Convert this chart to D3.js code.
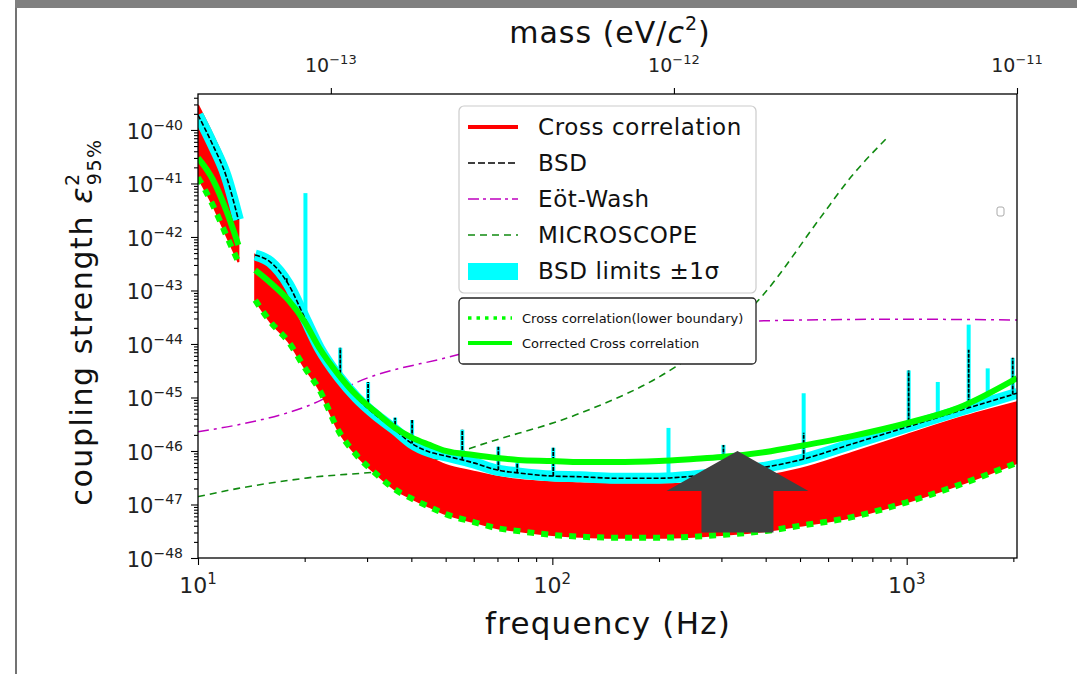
<!DOCTYPE html>
<meta charset="utf-8">
<style>
body { margin: 0; background: #fff; }
svg { display: block; font-family: "DejaVu Sans", sans-serif; }
</style>
<body>
<svg id="chart" width="1077" height="674"></svg>

<script src="https://d3js.org/d3.v7.min.js"></script>
<script>
// frequency grid (Hz) for the main curves; null values mark the data gap near 13.8 Hz
var freqs     = [10, 11, 12, 13, 13.8, 14.5, 16, 18, 20, 22, 25, 28, 32, 36, 40, 45, 50, 60, 70, 80,
                 100, 120, 150, 200, 250, 300, 400, 500, 700, 1000, 1400, 2048];
var crossHi   = [2.9e-40, 8.1e-41, 2.2e-41, 4.0e-42, null, 4.6e-43, 3.0e-43, 1.3e-43, 4.3e-44, 9.6e-45,
                 2.3e-45, 9.0e-46, 3.8e-46, 1.9e-46, 1.1e-46, 7.4e-47, 5.5e-47, 4.1e-47, 3.3e-47, 2.9e-47,
                 2.6e-47, 2.5e-47, 2.4e-47, 2.4e-47, 2.5e-47, 2.75e-47, 3.4e-47, 4.6e-47, 9.2e-47, 2.0e-46,
                 4.1e-46, 8.2e-46];
var crossLo   = [1.3e-41, 4.0e-42, 1.1e-42, 3.4e-43, null, 6.6e-44, 2.6e-44, 1.1e-44, 3.6e-45, 1.4e-45,
                 2.3e-46, 8.4e-47, 3.6e-47, 1.9e-47, 1.3e-47, 9.0e-48, 6.6e-48, 4.7e-48, 3.6e-48, 3.2e-48,
                 2.7e-48, 2.5e-48, 2.4e-48, 2.4e-48, 2.5e-48, 2.7e-48, 3.2e-48, 4.0e-48, 5.8e-48, 1.1e-47,
                 2.3e-47, 6.0e-47];
var bsd       = [1.9e-40, 5.3e-41, 1.4e-41, 2.1e-42, null, 4.6e-43, 3.4e-43, 1.3e-43, 3.1e-44, 8.4e-45,
                 2.4e-45, 1.0e-45, 4.5e-46, 2.5e-46, 1.4e-46, 9.6e-47, 8.1e-47, 6.0e-47, 4.4e-47, 3.9e-47,
                 3.4e-47, 3.3e-47, 3.1e-47, 3.1e-47, 3.4e-47, 3.9e-47, 5.0e-47, 6.8e-47, 1.35e-46, 2.8e-46,
                 5.6e-46, 1.2e-45];
var corrected = [3.0e-41, 1.2e-41, 3.2e-42, 7.1e-43, null, 2.4e-43, 1.4e-43, 6.6e-44, 2.6e-44, 8.4e-45,
                 2.6e-45, 1.1e-45, 5.1e-46, 2.7e-46, 1.8e-46, 1.3e-46, 1.0e-46, 8.4e-47, 7.4e-47, 6.8e-47,
                 6.5e-47, 6.2e-47, 6.2e-47, 6.5e-47, 7.1e-47, 7.7e-47, 9.6e-47, 1.24e-46, 1.9e-46, 3.3e-46,
                 6.4e-46, 2.3e-45];

// lines spikes in the BSD limits (cyan = ±1 sigma band, black = BSD itself)
var spikeFreq  = [17.8, 20.1, 25.2, 30.2, 36, 40.2, 55.7, 70.4, 79.6, 100.6, 212.7, 304, 512, 1013, 1224, 1496, 1693, 1992];
var spikeCyan  = [1.7e-43, 6.6e-42, 8.5e-45, 1.95e-45, 4.2e-46, 3.8e-46, 2.5e-46, 1.2e-46, 6.0e-47, 1.15e-46,
                  2.7e-46, 1.3e-46, 1.2e-45, 3.2e-45, 1.95e-45, 2.3e-44, 3.5e-45, 5.5e-45];
var spikeBlack = [1.7e-43, null, 8.5e-45, 1.95e-45, 4.2e-46, 3.8e-46, 2.5e-46, 1.2e-46, 6.0e-47, 1.15e-46,
                  null, 1.3e-46, 2.2e-46, 3.2e-45, null, 7.8e-45, null, 5.5e-45];

var eotFreq   = [10, 13, 20, 30, 50, 70, 100, 150, 250, 500, 1000, 2048];
var eotVal    = [2.3e-46, 3.1e-46, 6.6e-46, 2.3e-45, 5.5e-45, 9.6e-45, 1.4e-44, 1.9e-44, 2.4e-44, 2.8e-44, 2.9e-44, 2.8e-44];

var microFreq = [10, 13, 20, 39, 67, 120, 222, 389, 571, 695, 880];
var microVal  = [1.4e-47, 2.0e-47, 3.1e-47, 5.0e-47, 1.5e-46, 5.1e-46, 3.7e-45, 7.6e-44, 2.3e-42, 1.3e-41, 7.1e-41];

var yTickExp    = [-48, -47, -46, -45, -44, -43, -42, -41, -40];
var xTickExp    = [1, 2, 3];
var massTickExp = [-13, -12, -11];

var legendLabels  = ["Cross correlation", "BSD", "Eöt-Wash", "MICROSCOPE", "BSD limits ±1σ"];
var legend2Labels = ["Cross correlation(lower boundary)", "Corrected Cross correlation"];

// annotation arrow (frequency, tip value, tail value)
var arrowFreq = 333, arrowTip = 1.0e-46, arrowTail = 3.0e-48;

var W = 1077, H = 674;
var plot = {left: 198, right: 1017, top: 94, bottom: 558};

var x = d3.scaleLog().domain([10, 2048]).range([plot.left, plot.right]);
var xMass = d3.scaleLog().domain([4.1e-14, 1e-11]).range([plot.left, plot.right]);
var y = d3.scaleLog().domain([1e-48, 4.7e-40]).range([plot.bottom, plot.top]);

var svg = d3.select("#chart");

// page frame
svg.append("rect").attr("x", 15).attr("y", 0).attr("width", W - 15).attr("height", 8).attr("fill", "#808080");
svg.append("line").attr("x1", 16).attr("x2", 16).attr("y1", 8).attr("y2", H)
    .attr("stroke", "#444").attr("stroke-width", 1.5);

svg.append("clipPath").attr("id", "clip").append("rect")
    .attr("x", plot.left).attr("y", plot.top)
    .attr("width", plot.right - plot.left).attr("height", plot.bottom - plot.top);

var g = svg.append("g").attr("clip-path", "url(#clip)");

function series(fs, vs) {
  return fs.map(function(f, i) { return {f: f, v: vs[i]}; });
}

var line = d3.line()
    .defined(function(d) { return d.v != null; })
    .x(function(d) { return x(d.f); })
    .y(function(d) { return y(d.v); })
    .curve(d3.curveMonotoneX);

// BSD value at any frequency, log-log between the grid points
function bsdAt(f) {
  var pts = series(freqs, bsd).filter(function(d) { return d.v != null; });
  for (var i = 0; i < pts.length - 1; i++) {
    if (f >= pts[i].f && f <= pts[i + 1].f) {
      var t = (Math.log(f) - Math.log(pts[i].f)) / (Math.log(pts[i + 1].f) - Math.log(pts[i].f));
      return Math.exp(Math.log(pts[i].v) + t * (Math.log(pts[i + 1].v) - Math.log(pts[i].v)));
    }
  }
  return pts[pts.length - 1].v;
}

// other experiments (behind the band)
g.append("path").attr("d", line(series(eotFreq, eotVal)))
    .attr("fill", "none").attr("stroke", "#bf00bf").attr("stroke-width", 1.5)
    .attr("stroke-dasharray", "11,5,3,5");
g.append("path").attr("d", line(series(microFreq, microVal)))
    .attr("fill", "none").attr("stroke", "#108a10").attr("stroke-width", 1.6)
    .attr("stroke-dasharray", "7,5");

// cross correlation band
var band = freqs.map(function(f, i) { return {f: f, hi: crossHi[i], lo: crossLo[i]}; });
g.append("path")
    .attr("d", d3.area()
      .defined(function(d) { return d.hi != null; })
      .x(function(d) { return x(d.f); })
      .y0(function(d) { return y(d.lo); })
      .y1(function(d) { return y(d.hi); })
      .curve(d3.curveMonotoneX)(band))
    .attr("fill", "#ff0000").attr("stroke", "#ff0000").attr("stroke-width", 2);

// BSD +-1 sigma band and BSD limit
g.append("path").attr("d", line(series(freqs, bsd)))
    .attr("fill", "none").attr("stroke", "#00ffff").attr("stroke-width", 11)
    .attr("stroke-linejoin", "round");
g.selectAll(".spikeC").data(spikeFreq).enter().append("line")
    .attr("x1", function(f) { return x(f); }).attr("x2", function(f) { return x(f); })
    .attr("y1", function(f) { return y(bsdAt(f)); })
    .attr("y2", function(f, i) { return y(spikeCyan[i]); })
    .attr("stroke", "#00ffff").attr("stroke-width", 4);
g.append("path").attr("d", line(series(freqs, bsd)))
    .attr("fill", "none").attr("stroke", "#000").attr("stroke-width", 1.6)
    .attr("stroke-dasharray", "5,2");
g.selectAll(".spikeB").data(spikeFreq.filter(function(f, i) { return spikeBlack[i] != null; }))
  .enter().append("line")
    .attr("x1", function(f) { return x(f); }).attr("x2", function(f) { return x(f); })
    .attr("y1", function(f) { return y(bsdAt(f)); })
    .attr("y2", function(f) { return y(spikeBlack[spikeFreq.indexOf(f)]); })
    .attr("stroke", "#000").attr("stroke-width", 1.8).attr("stroke-dasharray", "4,1");

// cross correlation lower boundary and corrected curve
g.append("path").attr("d", line(series(freqs, crossLo)))
    .attr("fill", "none").attr("stroke", "#00ff00").attr("stroke-width", 6)
    .attr("stroke-dasharray", "7,7");
g.append("path").attr("d", line(series(freqs, corrected)))
    .attr("fill", "none").attr("stroke", "#00ff00").attr("stroke-width", 6)
    .attr("stroke-linejoin", "round");

// axes frame
svg.append("rect")
    .attr("x", plot.left).attr("y", plot.top)
    .attr("width", plot.right - plot.left).attr("height", plot.bottom - plot.top)
    .attr("fill", "none").attr("stroke", "#000").attr("stroke-width", 1.3);

var yMajor = yTickExp.map(function(e) { return Math.pow(10, e); });
var yMinor = [];
yTickExp.forEach(function(e) {
  for (var k = 2; k <= 9; k++) {
    var v = k * Math.pow(10, e);
    if (v < y.domain()[1]) yMinor.push(v);
  }
});
var xMinor = [];
[1, 2, 3].forEach(function(e) {
  for (var k = 2; k <= 9; k++) {
    var v = k * Math.pow(10, e);
    if (v < x.domain()[1]) xMinor.push(v);
  }
});

function tickAxis(axis, tx, ty) {
  var a = svg.append("g").attr("transform", "translate(" + tx + "," + ty + ")").call(axis);
  a.select(".domain").remove();
  a.selectAll("line").attr("stroke", "#000").attr("stroke-width", 1.1);
  return a;
}
tickAxis(d3.axisLeft(y).tickValues(yMajor).tickSize(7).tickFormat(""), plot.left, 0);
tickAxis(d3.axisLeft(y).tickValues(yMinor).tickSize(4).tickFormat(""), plot.left, 0);
tickAxis(d3.axisBottom(x).tickValues(xTickExp.map(function(e) { return Math.pow(10, e); })).tickSize(7).tickFormat(""), 0, plot.bottom);
tickAxis(d3.axisBottom(x).tickValues(xMinor).tickSize(4).tickFormat(""), 0, plot.bottom);
tickAxis(d3.axisTop(xMass).tickValues(massTickExp.map(function(e) { return Math.pow(10, e); })).tickSize(6).tickFormat(""), 0, plot.top);

// power-of-ten labels
function powLabel(sel, exp, base, sup, supDy) {
  sel.append("tspan").attr("font-size", base).text("10");
  sel.append("tspan").attr("font-size", sup).attr("dy", supDy)
    .text(exp < 0 ? "\u2212" + (-exp) : String(exp));
}
yTickExp.forEach(function(e) {
  var t = svg.append("text").attr("x", plot.left - 15).attr("y", y(Math.pow(10, e)) + 9)
      .attr("text-anchor", "end").attr("fill", "#222");
  powLabel(t, e, 21, 14, -9);
});
xTickExp.forEach(function(e) {
  var t = svg.append("text").attr("x", x(Math.pow(10, e))).attr("y", 593)
      .attr("text-anchor", "middle").attr("fill", "#222");
  powLabel(t, e, 22, 15, -9);
});
massTickExp.forEach(function(e) {
  var t = svg.append("text").attr("x", xMass(Math.pow(10, e))).attr("y", 72)
      .attr("text-anchor", "middle").attr("fill", "#222");
  powLabel(t, e, 19, 13, -8);
});

// axis titles
svg.append("text").attr("x", 608).attr("y", 634).attr("text-anchor", "middle")
    .attr("font-size", 31).attr("letter-spacing", 1.2).attr("fill", "#111")
    .text("frequency (Hz)");

var mt = svg.append("text").attr("x", 610).attr("y", 43).attr("text-anchor", "middle")
    .attr("font-size", 30).attr("letter-spacing", 1).attr("fill", "#111");
mt.append("tspan").text("mass (eV/");
mt.append("tspan").attr("font-style", "italic").text("c");
mt.append("tspan").attr("font-size", 19).attr("dy", -13).text("2");
mt.append("tspan").attr("dy", 13).text(")");

var yt = svg.append("text").attr("transform", "translate(92,322) rotate(-90)")
    .attr("text-anchor", "middle").attr("font-size", 30).attr("letter-spacing", 1.6).attr("fill", "#111");
yt.append("tspan").text("coupling strength ");
yt.append("tspan").attr("font-style", "italic").text("\u03b5");
yt.append("tspan").attr("font-size", 19).attr("dy", -13).text("2");
yt.append("tspan").attr("font-size", 19).attr("dx", -13).attr("dy", 22).text("95%");

// legend 1
var lg = svg.append("g");
lg.append("rect").attr("x", 459).attr("y", 106).attr("width", 297).attr("height", 187).attr("rx", 5)
    .attr("fill", "#fff").attr("fill-opacity", 0.85).attr("stroke", "#cccccc").attr("stroke-width", 1.2);
var rowY = d3.scalePoint().domain(legendLabels).range([127, 271]);
var handles = [
  {stroke: "#ff0000", width: 4, dash: null},
  {stroke: "#000", width: 1.6, dash: "7,3"},
  {stroke: "#bf00bf", width: 1.6, dash: "11,4,3,4"},
  {stroke: "#108a10", width: 1.6, dash: "7,5"},
  null
];
legendLabels.forEach(function(lbl, i) {
  var yy = rowY(lbl);
  if (handles[i]) {
    lg.append("line").attr("x1", 468).attr("x2", 518).attr("y1", yy).attr("y2", yy)
      .attr("stroke", handles[i].stroke).attr("stroke-width", handles[i].width)
      .attr("stroke-dasharray", handles[i].dash);
  } else {
    lg.append("rect").attr("x", 468).attr("y", yy - 8).attr("width", 50).attr("height", 17).attr("fill", "#00ffff");
  }
  lg.append("text").attr("x", 538).attr("y", yy).attr("dy", "0.36em")
    .attr("font-size", 23).attr("letter-spacing", 0.6).attr("fill", "#111").text(lbl);
});

// legend 2
var lg2 = svg.append("g");
lg2.append("rect").attr("x", 459).attr("y", 298).attr("width", 297).attr("height", 66).attr("rx", 4)
    .attr("fill", "#fff").attr("stroke", "#222").attr("stroke-width", 1.3);
var row2Y = d3.scalePoint().domain(legend2Labels).range([318, 343]);
legend2Labels.forEach(function(lbl, i) {
  var yy = row2Y(lbl);
  lg2.append("line").attr("x1", 468).attr("x2", 512).attr("y1", yy).attr("y2", yy)
    .attr("stroke", "#00ff00").attr("stroke-width", i ? 4 : 3.5)
    .attr("stroke-dasharray", i ? null : "3.5,5");
  lg2.append("text").attr("x", 522).attr("y", yy).attr("dy", "0.36em")
    .attr("font-size", 13).attr("fill", "#111").text(lbl);
});

// small stray glyph at the right
svg.append("rect").attr("x", 997).attr("y", 207).attr("width", 7).attr("height", 9).attr("rx", 2)
    .attr("fill", "none").attr("stroke", "#aaa").attr("stroke-width", 1);

// arrow annotation
var ax = x(arrowFreq), aTip = y(arrowTip), aTail = y(arrowTail);
var headHalf = 71, shaftHalf = 36, headLen = 40;
svg.append("path")
    .attr("d", d3.line()([
      [ax, aTip], [ax + headHalf, aTip + headLen], [ax + shaftHalf, aTip + headLen],
      [ax + shaftHalf, aTail], [ax - shaftHalf, aTail], [ax - shaftHalf, aTip + headLen],
      [ax - headHalf, aTip + headLen]
    ]) + "Z")
    .attr("fill", "#404040");
</script>
</body>
